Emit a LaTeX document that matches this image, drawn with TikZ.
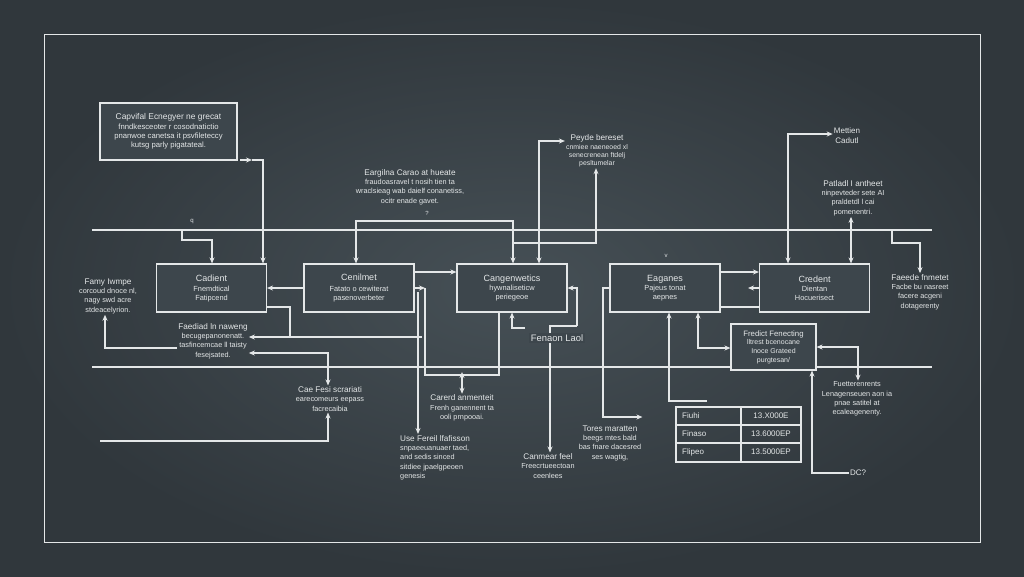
\documentclass[tikz,border=0pt]{standalone}
\usepackage{fontspec}
\setmainfont{Liberation Sans}
\usetikzlibrary{positioning,arrows.meta}
\definecolor{chalk}{HTML}{E4E7E8}
\definecolor{bgin}{HTML}{465056}
\definecolor{bgout}{HTML}{30373C}
\definecolor{bg}{HTML}{3D464C}
\tikzset{
  plain/.style={draw=chalk, line width=1.1pt},
  wire/.style={plain, -{Stealth[length=6pt,width=5pt]}},
  twoway/.style={plain, {Stealth[length=6pt,width=5pt]}-{Stealth[length=6pt,width=5pt]}},
  box/.style={draw=chalk, line width=1.1pt, fill=bg, minimum width=110pt, minimum height=48pt,
    align=center, text=chalk, inner sep=2pt, font=\fontsize{7.4}{9}\selectfont},
  note/.style={align=center, text=chalk, inner sep=1pt, font=\fontsize{7.3}{9.3}\selectfont},
}
\newcommand*\boxtitle[1]{{\fontsize{9}{11}\selectfont #1}}
\newcommand*\notehead[1]{{\fontsize{8.2}{10}\selectfont #1}}

\begin{document}
\begin{tikzpicture}[x=1pt,y=-1pt]
\useasboundingbox (0,0) rectangle (1024,576);
\shade[inner color=bgin, outer color=bgout] (0,0) rectangle (1024,576);
\draw[plain, line width=0.9pt] (44,34) rectangle (980,542);

% rails
\draw[plain] (92,230) -- (932,230);
\draw[plain] (92,367) -- (932,367);

% main row
\node[box] (cadient) at (211.5,288) {\boxtitle{Cadient}\\[1pt] Fnemdtical\\ Fatipcend};
\node[box] (cenilmet) at (359,288) {\boxtitle{Cenilmet}\\[2pt] Fatato o cewiterat\\ pasenoverbeter};
\node[box] (cangen) at (512,288) {\boxtitle{Cangenwetics}\\ hywnaliseticw\\ periegeoe};
\node[box] (eaganes) at (665,288) {\boxtitle{Eaganes}\\ Pajeus tonat\\ aepnes};
\node[box] (credent) at (814.5,288) {\boxtitle{Credent}\\ Dientan\\ Hocuerisect};
\node[box, minimum width=85pt, minimum height=46pt, font=\fontsize{7}{8.6}\selectfont] (forecast) at (773.5,347)
  {{\fontsize{7.8}{9.4}\selectfont Fredict Fenecting}\\ lltrest bcenocane\\ Inoce Grateed\\ purgtesan/};
\node[box, minimum width=137pt, minimum height=57pt, font=\fontsize{7.7}{9.2}\selectfont] (capbox) at (168.5,131.5)
  {{\fontsize{8.4}{9.6}\selectfont Capvifal Ecnegyer ne grecat}\\ fnndkesceoter r cosodnatictio\\
   pnanwoe canetsa it psvfileteccy\\ kutsg parly pigatateal.};

% notes
\node[note] (famy) at (108,296) {\notehead{Famy Iwmpe}\\ corcoud dnoce nl,\\ nagy swd acre\\ stdeacelyrion.};
\node[note] (eargilna) at (410,187) {\notehead{Eargilna Carao at hueate}\\ fraudoasravel t nosih tien ta\\ wraclsieag wab daielf conanetiss,\\ ocitr enade gavet.};
\node[note, font=\fontsize{6.9}{8.2}\selectfont] (peyde) at (597,151) {\notehead{Peyde bereset}\\ cnmiee naeneoed xl\\ senecrenean ftdelj\\ pesltumelar};
\node[note, font=\fontsize{8}{10}\selectfont] (mettien) at (847,136) {Mettien\\ Cadutl};
\node[note] (patladl) at (853,198) {\notehead{Patladl I antheet}\\ ninpevteder sete AI\\ praldetdl l cai\\ pomenentri.};
\node[note] (faeede) at (920,292) {\notehead{Faeede fnmetet}\\ Facbe bu nasreet\\ facere acgeni\\ dotagerenty};
\node[note] (faediad) at (213,341) {\notehead{Faediad ln naweng}\\ becugepanonenatt.\\ tasfincemcae ll taisty\\ fesejsated.};
\node[note] (caefesi) at (330,399) {\notehead{Cae Fesi scrariati}\\ earecomeurs eepass\\ facrecaibia};
\node[note] (carerd) at (462,408) {\notehead{Carerd anmenteit}\\ Frenh ganennent ta\\ ooli prnpooai.};
\node[note, align=left, anchor=north west] (usefer) at (399,434) {\notehead{Use Fereil lfafisson}\\ snpaeeuanuaer taed,\\ and sedis sinced\\ sitdiee jpaelgpeoen\\ genesis};
\node[note] (canmear) at (548,466) {\notehead{Canmear feel}\\ Freecrtueectoan\\ ceenlees};
\node[note] (tores) at (610,443) {\notehead{Tores maratten}\\ beegs mtes bald\\ bas fnare dacesred\\ ses wagtig,};
\node[note] (fuetter) at (857,399) {Fuetterenrents\\ Lenagenseuen aon ia\\ pnae satitel at\\ ecaleagenenty.};
\node[note, font=\fontsize{8}{10}\selectfont] (dcq) at (858,473) {DC?};
\node[note, font=\fontsize{6}{6}\selectfont] (qa) at (192,222) {q};
\node[note, font=\fontsize{6}{6}\selectfont] (qb) at (427,213) {?};
\node[note, font=\fontsize{6}{6}\selectfont] (qc) at (666,256) {v};

% table
\draw[plain] (676,407) rectangle (801,462);
\draw[plain] (676,425) -- (801,425);
\draw[plain] (676,443) -- (801,443);
\draw[plain] (741,407) -- (741,462);
\foreach \y/\k/\v in {416/Fiuhi/13.X000E, 434/Finaso/13.6000EP, 452/Flipeo/13.5000EP}{
  \node[note, anchor=west, font=\fontsize{8}{9}\selectfont] at (681,\y) {\k};
  \node[note, font=\fontsize{8}{9}\selectfont] at (771,\y) {\v};
}

% connectors, left part
\draw[wire] (240,160) -- (252,160);
\draw[wire] (252,160) -- (263,160) -- (263,0 |- cadient.north);
\draw[wire] (182,230) -- (182,240) -- (212,240) -- (212,0 |- cadient.north);
\draw[twoway] (356,0 |- cenilmet.north) -- (356,221) -- (513,221) -- (513,0 |- cangen.north);
\draw[wire] (513,243) -- (596,243) -- (peyde.south -| 596,0);
\draw[twoway] (539,0 |- cangen.north) -- (539,141) -- (peyde.west |- 0,141);
\draw[wire] (cenilmet.west) -- (cadient.east);
\draw[wire] ([yshift=16pt]cenilmet.east) -- ([yshift=16pt]cangen.west);
\draw[wire] (cenilmet.east) -- (425,288);
\draw[plain] (425,288) -- (425,375) -- (499,375) -- (cangen.south -| 499,0);
\draw[wire] (418,292) -- (418,0 |- usefer.north);
\draw[plain] (cadient.east |- 0,307) -- (290,307) -- (290,337);
\draw[wire] (422,337) -- (faediad.east |- 0,337);
\draw[twoway] (faediad.east |- 0,353) -- (328,353) -- (328,0 |- caefesi.north);
\draw[wire] (faediad.west |- 0,348) -- (105,348) -- (105,0 |- famy.south);
\draw[wire] (100,441) -- (328,441) -- (328,0 |- caefesi.south);
\draw[wire] (462,378) -- (462,0 |- carerd.north);
\draw[wire] (462,378) -- (462,372);

% connectors, middle and right
\draw[wire] (525,328) -- (512,328) -- (512,0 |- cangen.south);
\draw[wire] (577,326) -- (577,288) -- (cangen.east);
\draw[wire] (577,326) -- (550,326) -- (550,0 |- canmear.north);
\draw[wire] (eaganes.west) -- (603,288) -- (603,417) -- (tores.north east |- 0,417);
\draw[twoway] (698,0 |- eaganes.south) -- (698,348) -- (forecast.west |- 0,348);
\draw[wire] (707,401) -- (669,401) -- (669,0 |- eaganes.south);
\draw[wire] ([yshift=16pt]eaganes.east) -- ([yshift=16pt]credent.west);
\draw[wire] (credent.west) -- (748,288);
\draw[plain] (eaganes.east |- 0,307) -- (credent.west |- 0,307);
\draw[twoway] (788,0 |- credent.north) -- (788,134) -- (mettien.west |- 0,134);
\draw[twoway] (851,0 |- patladl.south) -- (851,0 |- credent.north);
\draw[wire] (892,230) -- (892,243) -- (920,243) -- (920,0 |- faeede.north);
\draw[twoway] (forecast.east |- 0,347) -- (858,347) -- (858,0 |- fuetter.north);
\draw[wire] (dcq.west) -- (812,473) -- (812,0 |- forecast.south);

\node[note, fill=bg, inner sep=2pt, font=\fontsize{9.4}{11}\selectfont] (fenaon) at (557,338) {Fenaon Laol};
\end{tikzpicture}
\end{document}
